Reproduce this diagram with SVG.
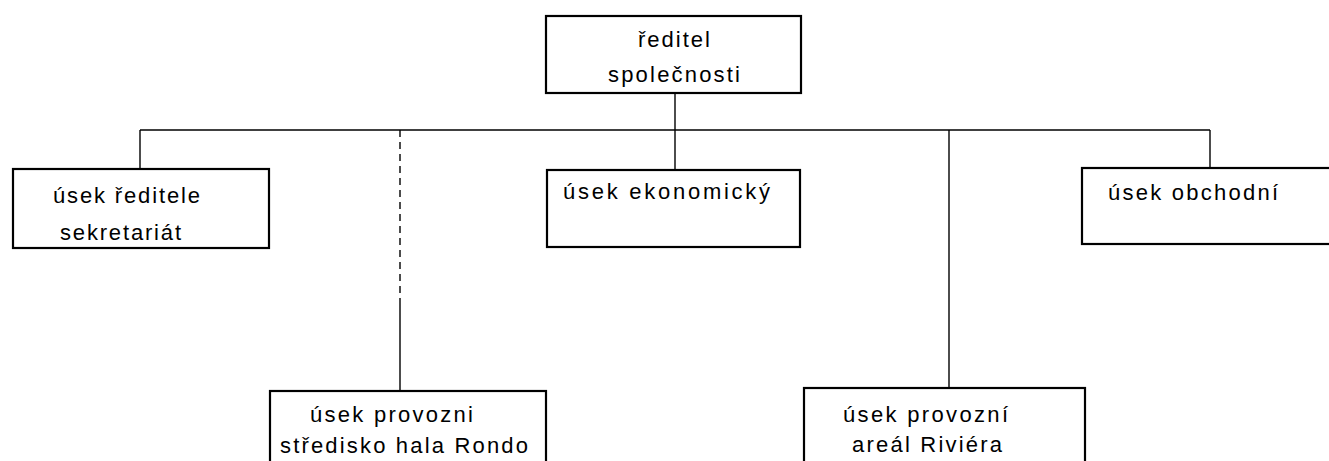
<svg xmlns="http://www.w3.org/2000/svg" width="1329" height="461" viewBox="0 0 1329 461">
<style>
.box{fill:#fff;stroke:#000;stroke-width:2.2}
.con{fill:none;stroke:#000;stroke-width:1.4}
text{font-family:"Liberation Sans",Arial,sans-serif;font-size:22px;fill:#000}
</style>
<rect width="1329" height="461" fill="#fff"/>
<g id="connectors">
<line class="con" x1="675" y1="93" x2="675" y2="170"/>
<line class="con" x1="140" y1="130" x2="1210" y2="130"/>
<line class="con" x1="140" y1="130" x2="140" y2="169"/>
<line class="con" x1="1210" y1="130" x2="1210" y2="168"/>
<line class="con" x1="400" y1="130" x2="400" y2="300" stroke-dasharray="7,5"/>
<line class="con" x1="400" y1="300" x2="400" y2="391"/>
<line class="con" x1="949" y1="130" x2="949" y2="388"/>
</g>
<g id="reditel">
<rect class="box" x="546" y="16" width="255" height="77"/>
<text x="638" y="47" textLength="72" lengthAdjust="spacing">ředitel</text>
<text x="608" y="82" textLength="132" lengthAdjust="spacing">společnosti</text>
</g>
<g id="usek-reditele">
<rect class="box" x="13" y="169" width="256" height="79"/>
<text x="53" y="203" textLength="147" lengthAdjust="spacing">úsek ředitele</text>
<text x="60" y="240" textLength="121" lengthAdjust="spacing">sekretariát</text>
</g>
<g id="usek-ekonomicky">
<rect class="box" x="547" y="170" width="253" height="77"/>
<text x="563" y="199" textLength="207" lengthAdjust="spacing">úsek ekonomický</text>
</g>
<g id="usek-obchodni">
<rect class="box" x="1082" y="168" width="260" height="76"/>
<text x="1108" y="200" textLength="170" lengthAdjust="spacing">úsek obchodní</text>
</g>
<g id="usek-rondo">
<rect class="box" x="270" y="391" width="276" height="80"/>
<text x="310" y="422" textLength="163" lengthAdjust="spacing">úsek provozni</text>
<text x="280" y="453" textLength="248" lengthAdjust="spacing">středisko hala Rondo</text>
</g>
<g id="usek-riviera">
<rect class="box" x="804" y="388" width="281" height="83"/>
<text x="843" y="422" textLength="165" lengthAdjust="spacing">úsek provozní</text>
<text x="852" y="452" textLength="150" lengthAdjust="spacing">areál Riviéra</text>
</g>
</svg>
